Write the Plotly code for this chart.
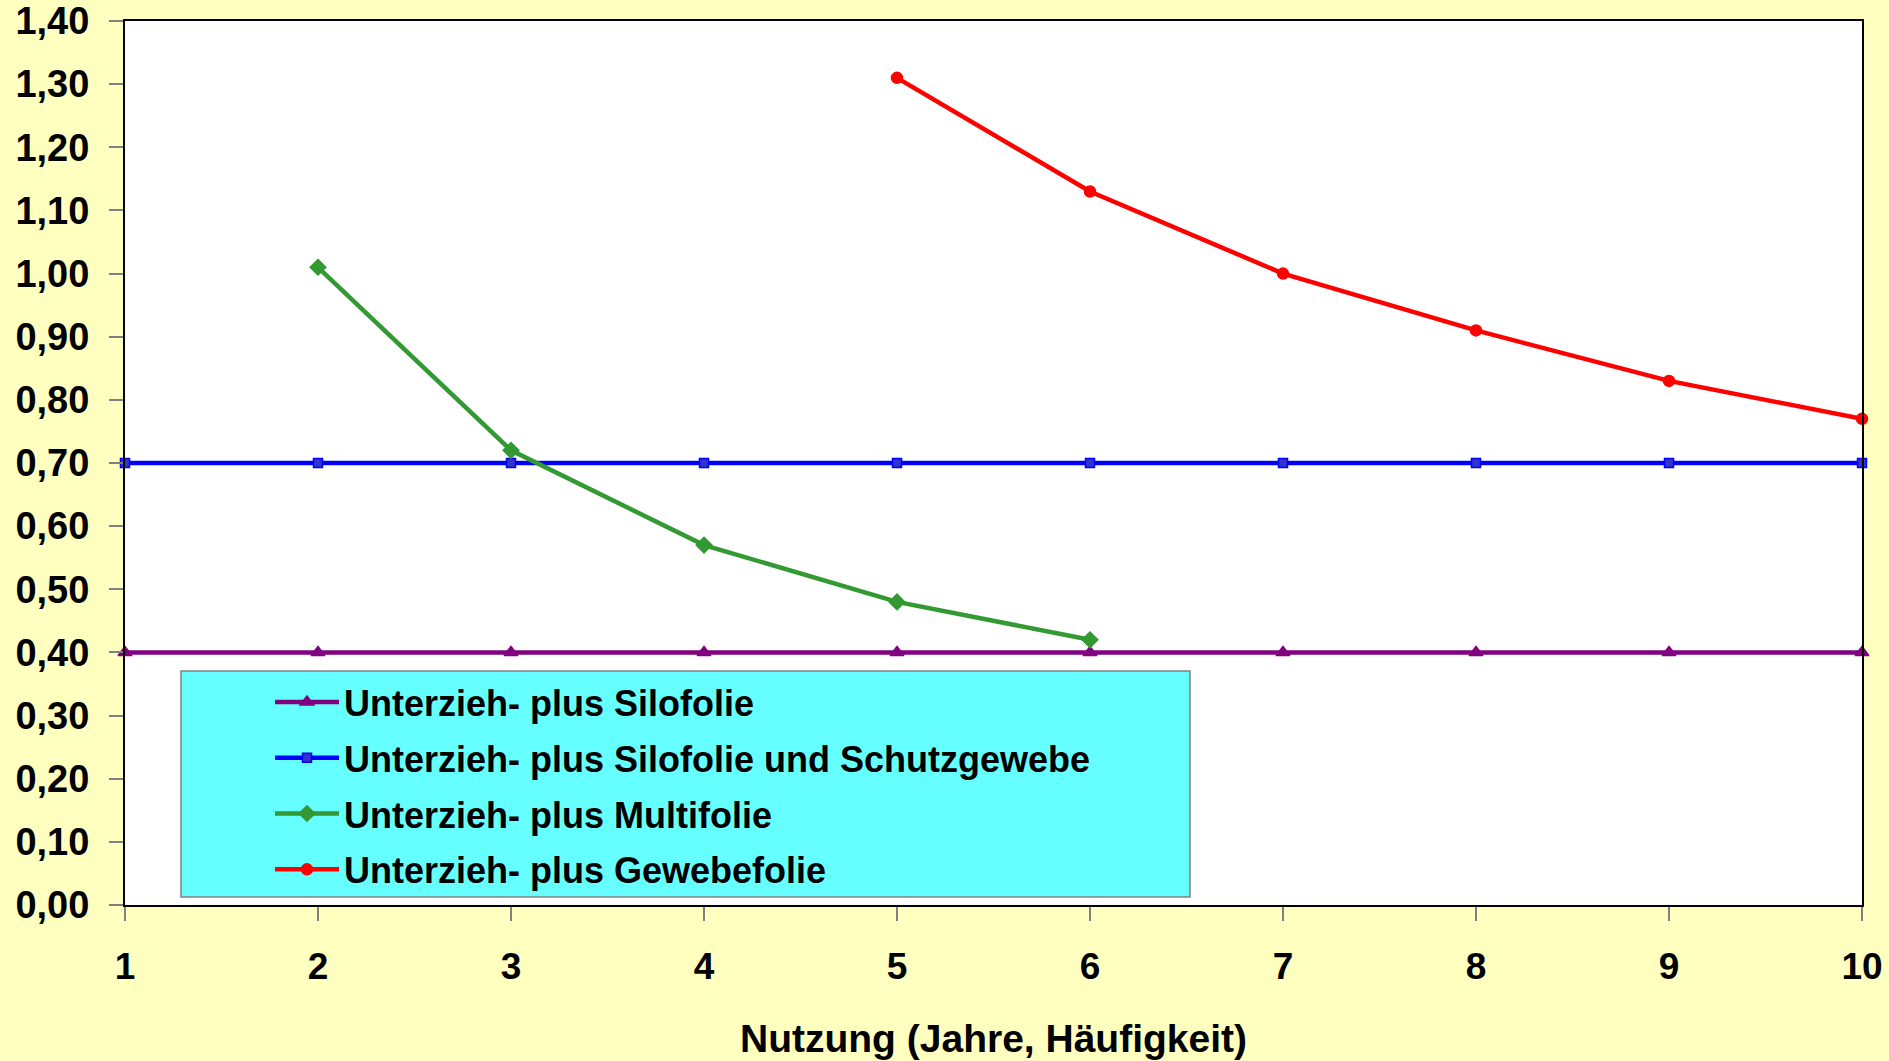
import plotly.graph_objects as go

x_all = [1, 2, 3, 4, 5, 6, 7, 8, 9, 10]
silofolie = [0.40, 0.40, 0.40, 0.40, 0.40, 0.40, 0.40, 0.40, 0.40, 0.40]
schutzgewebe = [0.70, 0.70, 0.70, 0.70, 0.70, 0.70, 0.70, 0.70, 0.70, 0.70]
x_multi = [2, 3, 4, 5, 6]
multifolie = [1.01, 0.72, 0.57, 0.48, 0.42]
x_gewebe = [5, 6, 7, 8, 9, 10]
gewebefolie = [1.31, 1.13, 1.00, 0.91, 0.83, 0.77]

names = [
    "Unterzieh- plus Silofolie",
    "Unterzieh- plus Silofolie und Schutzgewebe",
    "Unterzieh- plus Multifolie",
    "Unterzieh- plus Gewebefolie",
]

FONT = "Arial, Liberation Sans, sans-serif"
W, H = 1889, 1061
ML, MR, MT, MB = 125, 27, 21, 156
pw, ph = W - ML - MR, H - MT - MB

fig = go.Figure()
series = [
    (x_all, silofolie, "#800080", "triangle-up", 12, "#800080"),
    (x_all, schutzgewebe, "#0000FF", "square", 9, "#3333CC"),
    (x_multi, multifolie, "#339933", "diamond", 12, "#339933"),
    (x_gewebe, gewebefolie, "#FF0000", "circle", 11, "#FF0000"),
]
for i, (xs, ys, col, sym, sz, fill) in enumerate(series):
    fig.add_trace(go.Scatter(
        x=xs, y=ys, name=names[i], mode="lines+markers",
        line=dict(color=col, width=4.5),
        marker=dict(symbol=sym, size=sz, color=fill, line=dict(color=col, width=1.5)),
        cliponaxis=False, legendgroup=f"g{i}",
    ))

def px2paper_x(px):
    return (px - ML) / pw

def px2paper_y(py):
    return (H - MB - py) / ph

fig.add_shape(type="rect", xref="paper", yref="paper",
              x0=px2paper_x(181), x1=px2paper_x(1190),
              y0=px2paper_y(897), y1=px2paper_y(671),
              fillcolor="#66FFFF", line=dict(color="#808080", width=1.5), layer="above")

fig.update_layout(
    width=W, height=H,
    margin=dict(l=ML, r=MR, t=MT, b=MB, pad=0, autoexpand=False),
    paper_bgcolor="#FFFFC0", plot_bgcolor="#FFFFFF",
    separators=",.",
    font=dict(family=FONT, size=34, color="#000000", weight="bold"),
    showlegend=True,
    legend=dict(
        x=px2paper_x(270), y=px2paper_y(672), xanchor="left", yanchor="top",
        bgcolor="rgba(0,0,0,0)", borderwidth=0, itemwidth=64,
        font=dict(family=FONT, size=36, color="#000000", weight="bold"),
        traceorder="grouped", tracegroupgap=6,
    ),
    xaxis=dict(
        range=[1, 10], tickmode="array", tickvals=x_all, automargin=False,
        ticks="outside", ticklen=14, tickcolor="#808080", tickwidth=2,
        showline=True, linecolor="#000000", linewidth=2, mirror=True,
        showgrid=False, zeroline=False,
        tickfont=dict(family=FONT, size=37, weight="bold"),
        ticklabelstandoff=14,
        title=dict(text="Nutzung (Jahre, Häufigkeit)", standoff=38,
                   font=dict(family=FONT, size=39, weight="bold")),
    ),
    yaxis=dict(
        range=[0, 1.4], dtick=0.1, tick0=0, tickformat=".2f", automargin=False,
        ticks="outside", ticklen=14, tickcolor="#808080", tickwidth=2,
        showline=True, linecolor="#000000", linewidth=2, mirror=True,
        showgrid=False, zeroline=False,
        tickfont=dict(family=FONT, size=38, weight="bold"),
        ticklabelstandoff=12,
    ),
)

fig.write_html("out.html", config={"displayModeBar": False},
               post_script="document.body.style.margin='0';document.body.style.overflow='hidden';")
